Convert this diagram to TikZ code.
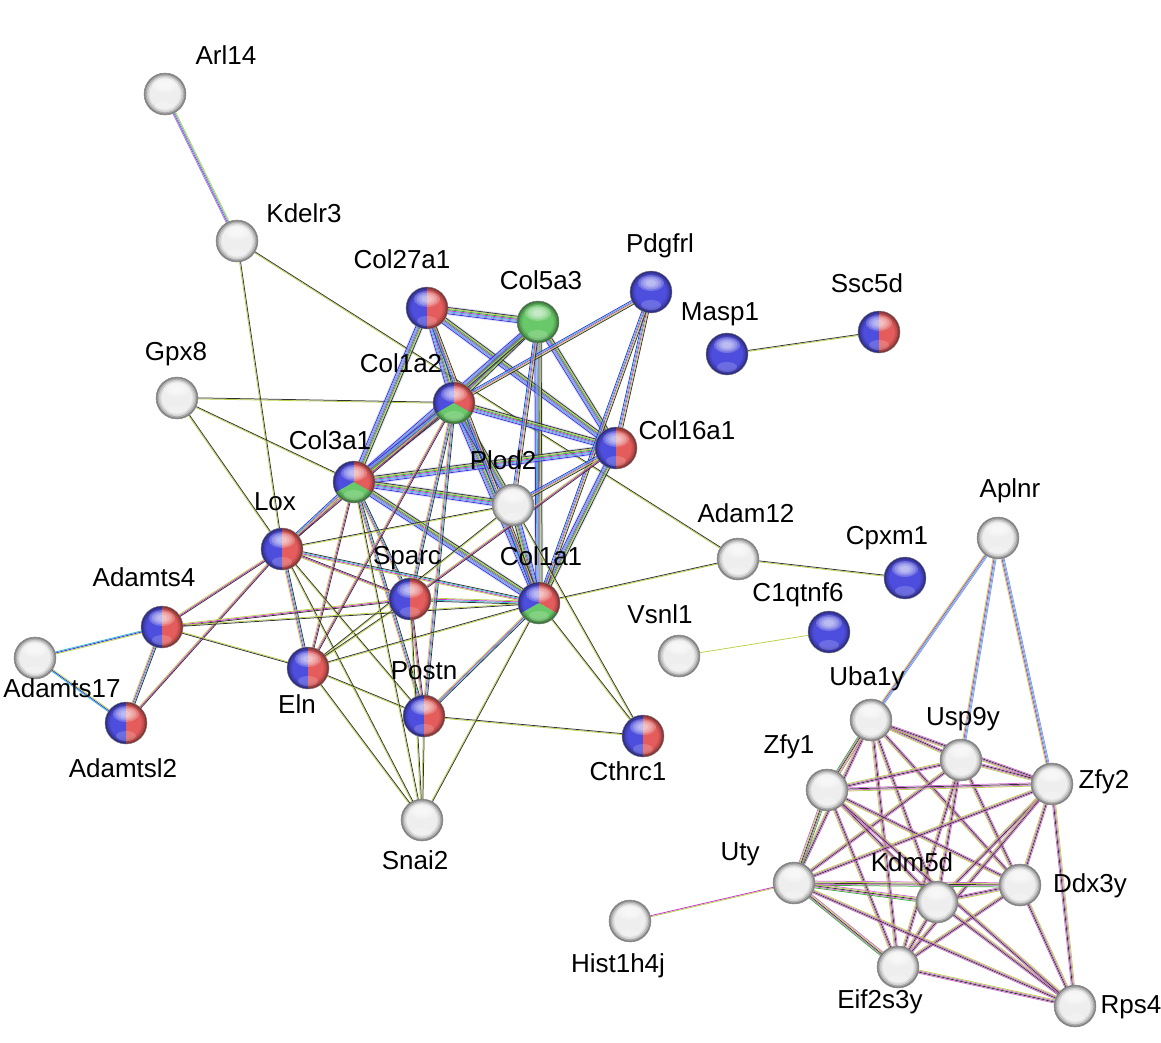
\documentclass[tikz,border=0pt]{standalone}
\usepackage{fontspec}
\setmainfont{Liberation Sans}
\usetikzlibrary{calc}
\pgfdeclarelayer{background}
\pgfsetlayers{background,main}
\definecolor{tmc}{RGB}{185,210,70}
\definecolor{cec}{RGB}{50,50,50}
\definecolor{exc}{RGB}{200,50,200}
\definecolor{exl}{RGB}{205,110,205}
\definecolor{dbc}{RGB}{50,190,210}
\definecolor{coc}{RGB}{50,50,225}
\definecolor{nbc}{RGB}{50,180,50}
\definecolor{hoc}{RGB}{140,140,235}
\definecolor{bluN}{RGB}{78,78,222}
\definecolor{redN}{RGB}{228,92,92}
\definecolor{grnN}{RGB}{105,200,105}
\definecolor{gryN}{RGB}{238,238,238}
\def\ppc{path picture bounding box.center}
\newcommand\glossy{%
  \foreach \r/\o in {20.6/0.42,19.2/0.26,17.8/0.14,16.4/0.07}{\draw[black, opacity=\o, line width=1.6pt] (\ppc) circle (\r pt);}
  \foreach \s in {1,0.8,0.6,0.4}{\fill[white, opacity=0.22] ([shift={(0pt,9pt)}]\ppc) ellipse [x radius={13pt*\s}, y radius={8pt*\s}];}
  \fill[white, opacity=0.18] ([shift={(0pt,-13pt)}]\ppc) ellipse [x radius=10pt, y radius=5pt];}
\newcommand\halfbr{%
  \fill[bluN] ([shift={(-30pt,-30pt)}]\ppc) rectangle ([shift={(0pt,30pt)}]\ppc);
  \fill[redN] ([shift={(0pt,-30pt)}]\ppc) rectangle ([shift={(30pt,30pt)}]\ppc);}
\newcommand\thirds{%
  \fill[bluN] (\ppc) -- +(90:40pt) -- +(150:40pt) -- +(210:40pt) -- cycle;
  \fill[redN] (\ppc) -- +(90:40pt) -- +(30:40pt) -- +(-30:40pt) -- cycle;
  \fill[grnN] (\ppc) -- +(210:40pt) -- +(270:40pt) -- +(330:40pt) -- cycle;}
\def\LsT{tmc}
\def\LsTC{tmc,cec}
\def\LsTXC{tmc,exc,cec}
\def\LsTXDC{tmc,exc,dbc,cec}
\def\LsCOL{coc,hoc,dbc,exc,nbc,tmc,cec}
\def\LsCOLb{coc,dbc,exc,tmc,cec}
\def\LsY{tmc,exl,cec,exl}
\def\LsYg{nbc,exl,cec,tmc,exl}
\def\LsAp{tmc,exc,dbc,hoc}
\def\LsAr{hoc,exc,dbc,tmc}
\def\LsAd{dbc,coc,tmc}
\def\LsHi{tmc,exc}
\newcommand\bund[4]{%
  \foreach \cc [count=\ii] in #2 {%
    \pgfmathsetmacro\dd{(\ii-(#1+1)/2)*1.05}
    \draw[\cc, edgeline] ($(#3)!\dd pt!90:(#4)$) -- ($(#4)!\dd pt!-90:(#3)$);
  }}
\newcommand\halo[2]{\draw[coc, opacity=0.16, line width=9pt] (#1) -- (#2);}
\begin{document}
\begin{tikzpicture}[x=1pt,y=-1pt,
  edgeline/.style={line width=0.75pt},
  sphnode/.style={circle, minimum size=42pt, inner sep=0pt, draw=black!50, line width=0.4pt, path picture={\glossy}},
  gball/.style={sphnode, fill=gryN},
  bball/.style={sphnode, fill=bluN},
  grball/.style={sphnode, fill=grnN},
  brball/.style={sphnode, path picture={\halfbr\glossy}},
  triball/.style={sphnode, path picture={\thirds\glossy}},
  lab/.style={font=\fontsize{26}{30}\selectfont, inner sep=0pt, text height=18.5pt, text depth=0pt, anchor=center}]
\useasboundingbox (0,0) rectangle (1161,1042);
% nodes
\node[gball] (Arl14) at (165,94) {};
\node[gball] (Kdelr3) at (237,241) {};
\node[gball] (Gpx8) at (177,398) {};
\node[brball] (Col27a1) at (427,308) {};
\node[grball] (Col5a3) at (538,322) {};
\node[bball] (Pdgfrl) at (651,292) {};
\node[bball] (Masp1) at (727,354) {};
\node[brball] (Ssc5d) at (879,332) {};
\node[triball] (Col1a2) at (454,403) {};
\node[brball] (Col16a1) at (616,448) {};
\node[triball] (Col3a1) at (354,482) {};
\node[gball] (Plod2) at (513,505) {};
\node[brball] (Lox) at (282,549) {};
\node[gball] (Adam12) at (738,559) {};
\node[bball] (Cpxm1) at (905,578) {};
\node[bball] (C1qtnf6) at (829,632) {};
\node[gball] (Aplnr) at (998,538) {};
\node[brball] (Adamts4) at (162,627) {};
\node[brball] (Sparc) at (410,599) {};
\node[triball] (Col1a1) at (539,603) {};
\node[gball] (Vsnl1) at (679,656) {};
\node[gball] (Adamts17) at (35,658) {};
\node[brball] (Eln) at (308,668) {};
\node[brball] (Postn) at (424,716) {};
\node[brball] (Cthrc1) at (643,736) {};
\node[brball] (Adamtsl2) at (126,723) {};
\node[gball] (Snai2) at (422,820) {};
\node[gball] (Uba1y) at (871,720) {};
\node[gball] (Usp9y) at (961,760) {};
\node[gball] (Zfy1) at (827,790) {};
\node[gball] (Zfy2) at (1052,784) {};
\node[gball] (Uty) at (794,883) {};
\node[gball] (Kdm5d) at (937,902) {};
\node[gball] (Ddx3y) at (1020,885) {};
\node[gball] (Hist1h4j) at (630,921) {};
\node[gball] (Eif2s3y) at (898,967) {};
\node[gball] (Rps4) at (1075,1006) {};
% labels
\node[lab] (lArl14) at (226,55) {Arl14};
\node[lab] (lKdelr3) at (304,213) {Kdelr3};
\node[lab] (lGpx8) at (176,351) {Gpx8};
\node[lab] (lCol27a1) at (402,259) {Col27a1};
\node[lab] (lCol5a3) at (541,280) {Col5a3};
\node[lab] (lPdgfrl) at (660,243) {Pdgfrl};
\node[lab] (lMasp1) at (720,311) {Masp1};
\node[lab] (lSsc5d) at (867,283) {Ssc5d};
\node[lab] (lCol1a2) at (401,363) {Col1a2};
\node[lab] (lCol16a1) at (687,430) {Col16a1};
\node[lab] (lCol3a1) at (330,440) {Col3a1};
\node[lab] (lPlod2) at (503,460) {Plod2};
\node[lab] (lLox) at (275,501) {Lox};
\node[lab] (lAdam12) at (746,513) {Adam12};
\node[lab] (lCpxm1) at (887,535) {Cpxm1};
\node[lab] (lC1qtnf6) at (798,592) {C1qtnf6};
\node[lab] (lAplnr) at (1010,488) {Aplnr};
\node[lab] (lAdamts4) at (144,577) {Adamts4};
\node[lab] (lSparc) at (407,555) {Sparc};
\node[lab] (lCol1a1) at (541,556) {Col1a1};
\node[lab] (lVsnl1) at (660,614) {Vsnl1};
\node[lab] (lAdamts17) at (62,688) {Adamts17};
\node[lab] (lEln) at (297,704) {Eln};
\node[lab] (lPostn) at (424,670) {Postn};
\node[lab] (lCthrc1) at (628,771) {Cthrc1};
\node[lab] (lAdamtsl2) at (123,768) {Adamtsl2};
\node[lab] (lSnai2) at (415,860) {Snai2};
\node[lab] (lUba1y) at (867,676) {Uba1y};
\node[lab] (lUsp9y) at (963,716) {Usp9y};
\node[lab] (lZfy1) at (789,744) {Zfy1};
\node[lab] (lZfy2) at (1104,779) {Zfy2};
\node[lab] (lUty) at (740,851) {Uty};
\node[lab] (lKdm5d) at (912,862) {Kdm5d};
\node[lab] (lDdx3y) at (1090,883) {Ddx3y};
\node[lab] (lHist1h4j) at (618,963) {Hist1h4j};
\node[lab] (lEif2s3y) at (880,999) {Eif2s3y};
\node[lab] (lRps4) at (1131,1004) {Rps4};
% edges
\begin{pgfonlayer}{background}
\fill[white] (0,0) rectangle (1161,1042);
\bund{4}{\LsAr}{Arl14}{Kdelr3}
\bund{2}{\LsTC}{Kdelr3}{Lox}
\bund{2}{\LsTC}{Kdelr3}{Adam12}
\bund{2}{\LsTC}{Gpx8}{Col1a2}
\bund{2}{\LsTC}{Gpx8}{Col3a1}
\bund{2}{\LsTC}{Gpx8}{Lox}
% collagen core
\foreach \a/\b in {Col27a1/Col5a3,Col27a1/Col1a2,Col27a1/Col3a1,Col27a1/Col16a1,Col5a3/Col1a2,Col5a3/Col3a1,Col5a3/Col16a1,Col5a3/Col1a1,Col1a2/Col3a1,Col1a2/Col16a1,Col1a2/Col1a1,Col3a1/Col16a1,Col3a1/Col1a1,Col16a1/Col1a1,Col1a2/Plod2,Col3a1/Plod2,Col1a1/Plod2}
  {\halo{\a}{\b}\bund{7}{\LsCOL}{\a}{\b}}
\foreach \a/\b in {Pdgfrl/Col1a2,Pdgfrl/Col16a1,Pdgfrl/Col1a1,Col27a1/Col1a1,Col5a3/Plod2,Col16a1/Plod2,Col3a1/Lox}
  {\bund{5}{\LsCOLb}{\a}{\b}}
\foreach \a/\b in {Lox/Eln,Col1a2/Sparc,Col3a1/Sparc,Col1a1/Sparc,Col1a2/Postn,Col1a1/Postn,Col3a1/Postn,Lox/Col1a1,Adamts4/Adamtsl2}
  {\bund{4}{\LsTXDC}{\a}{\b}}
\foreach \a/\b in {Lox/Sparc,Lox/Adamts4,Lox/Adamtsl2,Col16a1/Sparc,Sparc/Postn,Sparc/Adamts4,Col1a2/Lox,Col1a2/Eln,Col3a1/Eln}
  {\bund{3}{\LsTXC}{\a}{\b}}
\foreach \a/\b in {Lox/Plod2,Lox/Postn,Lox/Snai2,Eln/Plod2,Eln/Sparc,Eln/Col1a1,Eln/Postn,Eln/Snai2,Eln/Adamts4,Col1a1/Adam12,Col1a1/Cthrc1,Plod2/Cthrc1,Postn/Cthrc1,Col1a1/Snai2,Sparc/Snai2,Postn/Snai2,Col3a1/Snai2,Col1a1/Adamts4,Adam12/Cpxm1,Masp1/Ssc5d}
  {\bund{2}{\LsTC}{\a}{\b}}
\bund{1}{\LsT}{Vsnl1}{C1qtnf6}
\bund{3}{\LsAd}{Adamts4}{Adamts17}
\bund{3}{\LsAd}{Adamts17}{Adamtsl2}
% Y cluster
\foreach \a/\b in {Uba1y/Usp9y,Uba1y/Zfy2,Uba1y/Kdm5d,Uba1y/Ddx3y,Uba1y/Eif2s3y,Uba1y/Uty,
  Usp9y/Zfy1,Usp9y/Zfy2,Usp9y/Uty,Usp9y/Kdm5d,Usp9y/Ddx3y,Usp9y/Eif2s3y,
  Zfy1/Zfy2,Zfy1/Kdm5d,Zfy1/Ddx3y,Zfy1/Eif2s3y,
  Zfy2/Uty,Zfy2/Kdm5d,Zfy2/Ddx3y,Zfy2/Eif2s3y,
  Kdm5d/Ddx3y,Kdm5d/Eif2s3y,Ddx3y/Eif2s3y,
  Rps4/Eif2s3y,Rps4/Kdm5d,Rps4/Ddx3y,Rps4/Zfy2,Rps4/Uty,Rps4/Zfy1}
  {\bund{4}{\LsY}{\a}{\b}}
\foreach \a/\b in {Uba1y/Zfy1,Uty/Zfy1,Uty/Ddx3y,Uty/Eif2s3y,Uty/Kdm5d}
  {\bund{5}{\LsYg}{\a}{\b}}
\foreach \a/\b in {Aplnr/Uba1y,Aplnr/Usp9y,Aplnr/Zfy2}
  {\bund{4}{\LsAp}{\a}{\b}}
\bund{2}{\LsHi}{Hist1h4j}{Uty}
\end{pgfonlayer}
\end{tikzpicture}
\end{document}
